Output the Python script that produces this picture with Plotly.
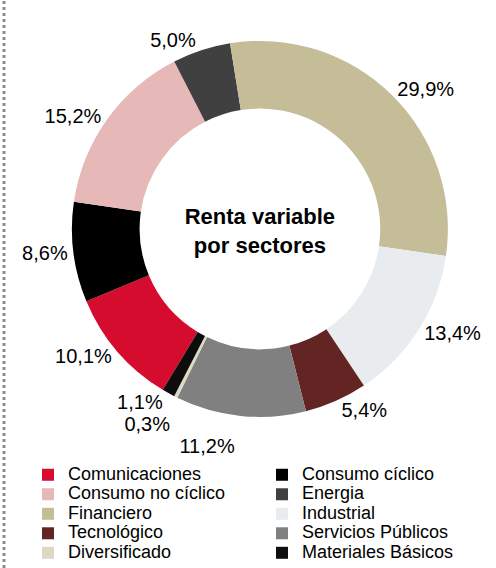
import plotly.graph_objects as go

# Data (legend order == clockwise order on the ring, starting at Comunicaciones)
sectors = ["Comunicaciones", "Consumo cíclico", "Consumo no cíclico", "Energia",
           "Financiero", "Industrial", "Tecnológico", "Servicios Públicos",
           "Diversificado", "Materiales Básicos"]
weights = [10.1, 8.6, 15.2, 5.0, 29.9, 13.4, 5.4, 11.2, 0.3, 1.1]
colors = ["#D50C2D", "#000000", "#E6B8B7", "#404040", "#C4BD97",
          "#E8ECEE", "#632523", "#808080", "#DDD9C4", "#0D0D0D"]
center_title = "Renta variable<br>por sectores"

FONT = "Liberation Sans, Arial, sans-serif"
LEG_SIZE = 18

names = [f'<span style="font-size:{LEG_SIZE}px">{s}</span>' for s in sectors]

fig = go.Figure(go.Pie(
    labels=names,
    values=weights,
    sort=False,
    direction="clockwise",
    rotation=-148.9,
    hole=0.64,
    marker=dict(colors=colors, line=dict(width=0)),
    textposition="outside",
    texttemplate="<span style='color:#000000'>%{value:.1f}%</span>",
    outsidetextfont=dict(family=FONT, size=20, color="#FFFFFF"),
    title=dict(text=center_title, position="middle center",
               font=dict(family=FONT, size=22, color="#000000", weight="bold")),
    domain=dict(x=[0.145, 0.903], y=[0.266, 0.928]),
    hoverinfo="skip",
))

W, H = 496, 568
fig.update_layout(
    width=W, height=H,
    margin=dict(l=0, r=0, t=0, b=0),
    paper_bgcolor="white",
    separators=",.",
    font=dict(family=FONT, color="#000000"),
    showlegend=True,
    legend=dict(
        orientation="h",
        x=33 / W, y=0, xanchor="left", yanchor="bottom",
        entrywidth=189,
        font=dict(family=FONT, size=12.7, color="#000000"),
        bgcolor="rgba(0,0,0,0)",
        borderwidth=0,
        itemclick=False,
    ),
    shapes=[dict(type="line", xref="paper", yref="paper",
                 x0=4 / W, x1=4 / W, y0=0, y1=1,
                 line=dict(color="#8C8C8C", width=3, dash="dot"))],
)

fig.write_html(
    "out.html",
    config={"displayModeBar": False},
    post_script="document.body.style.margin='0px';document.body.style.overflow='hidden';",
)
